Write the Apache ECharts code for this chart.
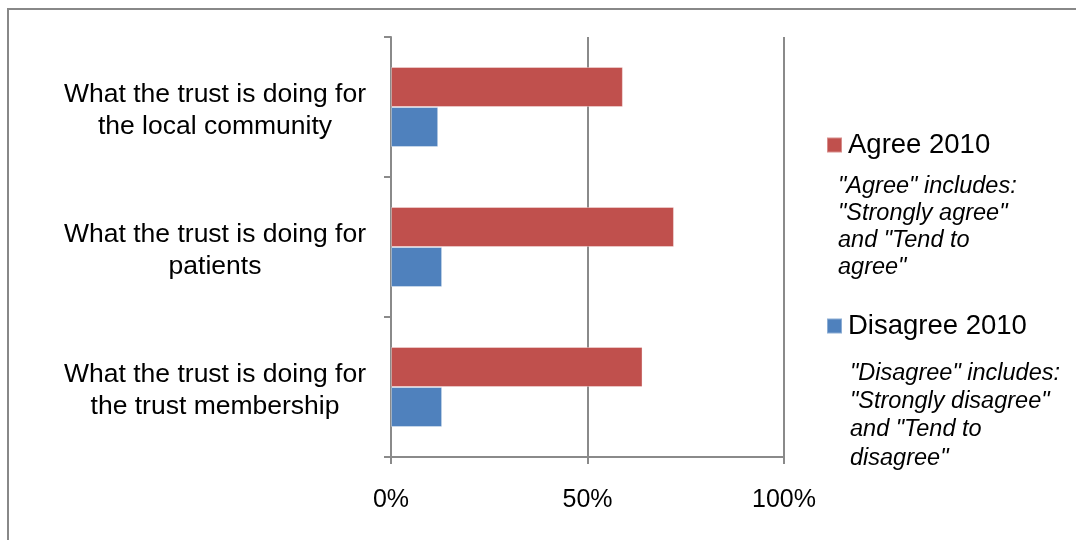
<!DOCTYPE html>
<html>
<head>
<meta charset="utf-8">
<script src="https://cdn.jsdelivr.net/npm/echarts@6/dist/echarts.min.js"></script>
<style>
html,body{margin:0;padding:0;background:#fff;}
#chart{width:1076px;height:540px;}
</style>
</head>
<body>
<div id="chart"></div>
<script>
const categories = [
  'What the trust is doing for\nthe local community',
  'What the trust is doing for\npatients',
  'What the trust is doing for\nthe trust membership'
];
const agree2010 = [59, 72, 64];
const disagree2010 = [12, 13, 13];
const xTicks = [0, 50, 100];
const agreeNote = '"Agree" includes:\n"Strongly agree"\nand "Tend to\nagree"';
const disagreeNote = '"Disagree" includes:\n"Strongly disagree"\nand "Tend to\ndisagree"';

const FONT = '"Liberation Sans", Arial, sans-serif';
const GRAY = '#8a8a8a';

const chart = echarts.init(document.getElementById('chart'), null, {renderer: 'canvas'});
chart.setOption({
  animation: false,
  backgroundColor: '#ffffff',
  textStyle: {fontFamily: FONT},
  grid: {left: 391, right: 292, top: 37, bottom: 83, containLabel: false},
  xAxis: {
    type: 'value',
    min: xTicks[0],
    max: xTicks[xTicks.length - 1],
    interval: xTicks[1] - xTicks[0],
    axisLine: {show: true, lineStyle: {color: GRAY, width: 2}},
    axisTick: {show: true, length: 7, lineStyle: {color: GRAY, width: 2}},
    splitLine: {show: true, lineStyle: {color: GRAY, width: 2}},
    axisLabel: {formatter: '{value}%', fontSize: 25, color: '#000', margin: 31, fontFamily: FONT}
  },
  yAxis: {
    type: 'category',
    data: categories,
    inverse: true,
    axisLine: {show: true, lineStyle: {color: GRAY, width: 2}},
    axisTick: {show: true, length: 7, lineStyle: {color: GRAY, width: 2}},
    axisLabel: {
      fontSize: 26.5, color: '#000', align: 'center', margin: 176,
      lineHeight: 32, fontFamily: FONT,
      formatter: function (v) {
        return v.split('\n').map(function (s) { return '{t|' + s + '}'; }).join('\n');
      },
      rich: {
        t: {fontSize: 26.5, lineHeight: 32, color: '#000', fontFamily: FONT, padding: [7, 0, 0, 0]}
      }
    }
  },
  legend: [
    {
      data: ['Agree 2010'], orient: 'vertical', left: 826, top: 130, padding: 0,
      itemWidth: 15, itemHeight: 15, icon: 'rect', itemGap: 0,
      textStyle: {fontSize: 27.5, color: '#000', lineHeight: 30, fontFamily: FONT, padding: [0, 0, 0, 1]}
    },
    {
      data: ['Disagree 2010'], orient: 'vertical', left: 826, top: 311, padding: 0,
      itemWidth: 15, itemHeight: 15, icon: 'rect', itemGap: 0,
      textStyle: {fontSize: 27.5, color: '#000', lineHeight: 30, fontFamily: FONT, padding: [0, 0, 0, 1]}
    }
  ],
  graphic: [
    {
      type: 'rect', silent: true, z: 100,
      shape: {x: 8, y: 9, width: 1200, height: 700},
      style: {fill: 'none', stroke: '#888888', lineWidth: 2}
    },
    {
      type: 'text', left: 838, top: 173,
      style: {text: agreeNote, font: 'italic 23.5px ' + FONT, fill: '#000', lineHeight: 27}
    },
    {
      type: 'text', left: 850, top: 359,
      style: {text: disagreeNote, font: 'italic 23.5px ' + FONT, fill: '#000', lineHeight: 28.3}
    }
  ],
  series: [
    {
      name: 'Agree 2010', type: 'bar', data: agree2010,
      barWidth: 40, barGap: '0%',
      itemStyle: {color: '#C0504D', borderColor: 'rgba(255,255,255,0.35)', borderWidth: 1}
    },
    {
      name: 'Disagree 2010', type: 'bar', data: disagree2010,
      barWidth: 40, barGap: '0%',
      itemStyle: {color: '#4F81BD', borderColor: 'rgba(255,255,255,0.35)', borderWidth: 1}
    }
  ]
});
</script>
</body>
</html>
